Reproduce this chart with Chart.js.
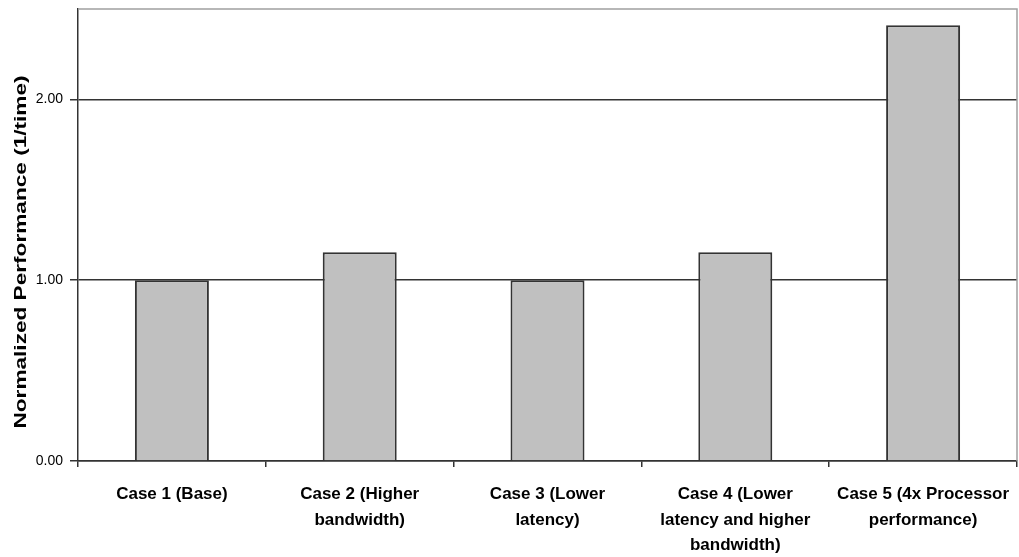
<!DOCTYPE html>
<html>
<head>
<meta charset="utf-8">
<script src="https://cdn.jsdelivr.net/npm/chart.js@4"></script>
<style>
  html, body { margin: 0; padding: 0; background: #ffffff; }
  #wrap { width: 1019px; height: 557px; position: relative; }
</style>
</head>
<body>
<div id="wrap"><canvas id="c" width="1019" height="557"></canvas></div>
<script>
const categories = [
  ["Case 1 (Base)"],
  ["Case 2 (Higher", "bandwidth)"],
  ["Case 3 (Lower", "latency)"],
  ["Case 4 (Lower", "latency and higher", "bandwidth)"],
  ["Case 5 (4x Processor", "performance)"]
];
const performance = [1.00, 1.155, 1.00, 1.155, 2.41];
const yTicks = [0, 1, 2];
const yTitle = "Normalized Performance (1/time)";

const FONT = "'Liberation Sans', Arial, sans-serif";

// Gray frame on top/right of the plot and the rotated axis title
const framePlugin = {
  id: 'frame',
  afterDraw(chart) {
    const { ctx, chartArea: a } = chart;
    ctx.save();
    ctx.strokeStyle = '#a0a0a0';
    ctx.lineWidth = 1.5;
    ctx.beginPath();
    ctx.moveTo(a.left, a.top);
    ctx.lineTo(a.right, a.top);
    ctx.lineTo(a.right, a.bottom);
    ctx.stroke();
    ctx.translate(21, 252);
    ctx.rotate(-Math.PI / 2);
    ctx.scale(1.33, 1);
    ctx.fillStyle = '#000';
    ctx.font = "bold 17px " + FONT;
    ctx.textAlign = 'center';
    ctx.textBaseline = 'middle';
    ctx.fillText(yTitle, 0, 0);
    ctx.restore();
  }
};

new Chart(document.getElementById('c'), {
  type: 'bar',
  data: {
    labels: categories,
    datasets: [{
      data: performance,
      backgroundColor: '#c0c0c0',
      borderColor: '#333333',
      borderWidth: 2,
      categoryPercentage: 1.0,
      barPercentage: 0.394
    }]
  },
  options: {
    responsive: false,
    animation: false,
    layout: { padding: { top: 9, right: 2, left: 0, bottom: 0 } },
    plugins: { legend: { display: false }, tooltip: { enabled: false } },
    scales: {
      x: {
        afterFit(scale) {
          scale.height = 96;
          scale.paddingLeft = 0;
          scale.paddingRight = 0;
        },
        grid: { display: true, drawOnChartArea: false, offset: true, tickLength: 6, color: '#333333', lineWidth: 1.5 },
        border: { color: '#333333', width: 1.5 },
        ticks: {
          color: '#000',
          font: { family: FONT, size: 17, weight: 'bold', lineHeight: 1.5 },
          padding: 15,
          maxRotation: 0,
          autoSkip: false
        }
      },
      y: {
        min: 0,
        max: 2.5,
        afterFit(scale) {
          scale.width = 78;
          scale.paddingTop = 0;
          scale.paddingBottom = 0;
        },
        afterBuildTicks(scale) { scale.ticks = yTicks.map(v => ({ value: v })); },
        grid: {
          color: '#333333',
          lineWidth: 1.5,
          tickLength: 8
        },
        border: { color: '#333333', width: 1.5 },
        ticks: {
          color: '#000',
          font: { family: FONT, size: 14 },
          padding: 7,
          callback: v => v.toFixed(2)
        }
      }
    }
  },
  plugins: [framePlugin]
});
</script>
</body>
</html>
